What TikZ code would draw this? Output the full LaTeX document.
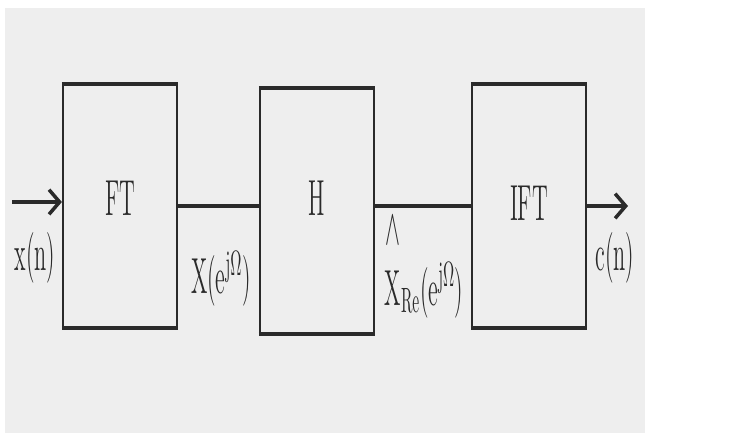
\documentclass[tikz,border=0pt]{standalone}
\usepackage{amsmath}
\usepackage{xcolor}
\usetikzlibrary{positioning, calc, arrows.meta}

\definecolor{scanbg}{HTML}{EEEEEE}
\definecolor{ink}{HTML}{2A2A2A}
\newcommand{\narrowtxt}[1]{\scalebox{0.44}[1]{#1}}

\begin{document}
\begin{tikzpicture}[
        x=0.01cm, y=-0.01cm,
        >={Straight Barb[length=3pt,width=7pt]},
        % plain blocks, thick lids drawn later
        blok/.style={draw=ink, line width=0.6pt, minimum width=1.14cm,
            minimum height=2.42cm, inner sep=0pt},
        sig/.style={draw=ink, line width=1pt},
        lbl/.style={font=\Large, text=ink, inner sep=0pt}
    ]
    \useasboundingbox (0,0) rectangle (736,433);
    \fill[scanbg] (5,8) rectangle (645,433);

    % --- Blocks ---
    \node[blok] (ft) at (120,206) {};
    \node[blok, minimum height=2.44cm] (h) at (317,211) {};
    \node[blok] (ift) at (529,206) {};
    \foreach \b in {ft,h,ift} {
        \draw[sig, line width=1.3pt] (\b.north west) -- (\b.north east);
        \draw[sig, line width=1.3pt] (\b.south west) -- (\b.south east);
    }

    % --- Block titles ---
    \node[lbl] (ftname) at (120,198) {\narrowtxt{FT}};
    \node[lbl] (hname) at (317,198) {\narrowtxt{H}};
    \node[lbl] (iftname) at (529,203) {\narrowtxt{IFT}};

    % --- Signals ---
    \coordinate (xin) at (12,202);
    \coordinate (cout) at (628,202);
    \draw[sig, ->] (xin) -- (xin -| ft.west);
    \draw[sig] (ft.east) -- (ft.east -| h.west);
    \draw[sig] (ift.west -| h.east) -- (ift.west);
    \draw[sig, ->] (ift.east) -- (cout |- ift.east);

    % --- Signal labels ---
    \node[lbl] (xn) at (35,258) {\narrowtxt{$\mathrm{x(n)}$}};
    \node[lbl] (xw) at (221,279) {\narrowtxt{$\mathrm{X(e^{j\Omega})}$}};
    \node[lbl, anchor=base west] (xre) at (384,305)
        {\narrowtxt{$\overset{\raisebox{0.7ex}{$\wedge$}}{\mathrm{X}}_{\mathrm{Re}}\mathrm{(e^{j\Omega})}$}};
    \node[lbl] (cn) at (615,258) {\narrowtxt{$\mathrm{c(n)}$}};

\end{tikzpicture}
\end{document}
